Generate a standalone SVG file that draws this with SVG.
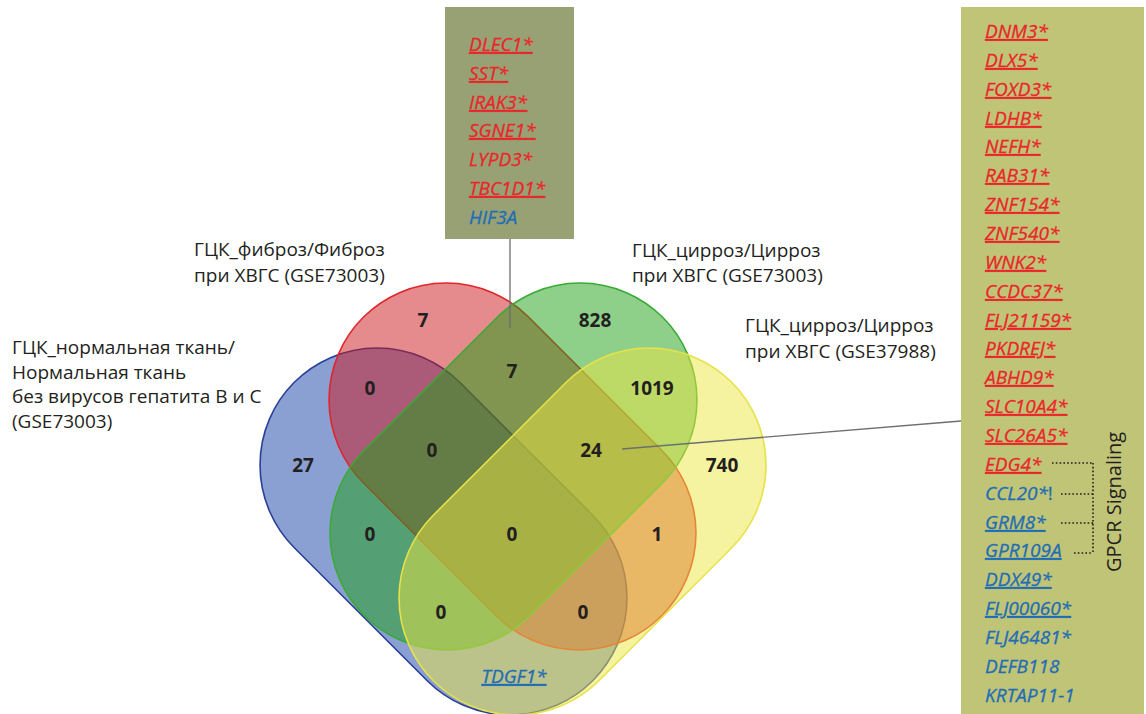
<svg xmlns="http://www.w3.org/2000/svg" width="1146" height="714" viewBox="0 0 1146 714">
<style>
.lbl{font-family:"Open Sans","Noto Sans",sans-serif;font-size:19px;fill:#231f20}
.num{font-family:"Open Sans","Noto Sans",sans-serif;font-size:19px;font-weight:bold;fill:#231f20;text-anchor:middle}
.gene{font-family:"Open Sans","Noto Sans",sans-serif;font-size:19px;font-style:italic;stroke-width:0.3}
.r{fill:#e8262b;stroke:#e8262b}
.b{fill:#1f6db5;stroke:#1f6db5}
.u{text-decoration:underline;text-underline-offset:4px;text-decoration-thickness:1.5px}
.set{stroke-width:1.6}
.conn{stroke:#6d6e71;stroke-width:1.3;fill:none}
.dot{stroke:#231f20;stroke-width:1.6;stroke-dasharray:1.6 2.2;fill:none}
</style>
<rect width="1146" height="714" fill="#ffffff"/>
<g id="set-normal">
<rect class="set" x="-211" y="-117" width="422" height="234" rx="117" ry="117" transform="translate(443.5,531.5) rotate(45)" fill="#153fa5" fill-opacity="0.5" stroke="#2a3f98"/>
<text class="lbl" x="12" y="354">ГЦК_нормальная ткань/<tspan x="12" y="379">Нормальная ткань</tspan><tspan x="12" y="403">без вирусов гепатита В и С</tspan><tspan x="12" y="428">(GSE73003)</tspan></text>
</g>
<g id="set-fibrosis">
<rect class="set" x="-211" y="-117" width="422" height="234" rx="117" ry="117" transform="translate(512.5,466.5) rotate(45)" fill="#cb171b" fill-opacity="0.5" stroke="#e0252b"/>
<text class="lbl" x="194" y="256">ГЦК_фиброз/Фиброз<tspan x="194" y="282">при ХВГС (GSE73003)</tspan></text>
</g>
<g id="set-cirrhosis-73003">
<rect class="set" x="-211" y="-117" width="422" height="234" rx="117" ry="117" transform="translate(513.5,466.5) rotate(-45)" fill="#1d9f15" fill-opacity="0.5" stroke="#3aaa35"/>
<text class="lbl" x="632" y="257">ГЦК_цирроз/Цирроз<tspan x="632" y="282">при ХВГС (GSE73003)</tspan></text>
</g>
<g id="set-cirrhosis-37988">
<rect class="set" x="-211" y="-117" width="422" height="234" rx="117" ry="117" transform="translate(582.5,531.5) rotate(-45)" fill="#ebe541" fill-opacity="0.5" stroke="#e6e24a"/>
<text class="lbl" x="745" y="332">ГЦК_цирроз/Цирроз<tspan x="745" y="358">при ХВГС (GSE37988)</tspan></text>
</g>
<g id="region-counts">
<text class="num" x="423" y="327">7</text>
<text class="num" x="595" y="327">828</text>
<text class="num" x="370" y="395">0</text>
<text class="num" x="512" y="378">7</text>
<text class="num" x="652" y="395">1019</text>
<text class="num" x="303" y="472">27</text>
<text class="num" x="432" y="457">0</text>
<text class="num" x="591" y="457">24</text>
<text class="num" x="722" y="472">740</text>
<text class="num" x="370" y="541">0</text>
<text class="num" x="512" y="541">0</text>
<text class="num" x="657" y="541">1</text>
<text class="num" x="441" y="619">0</text>
<text class="num" x="583" y="619">0</text>
<text class="gene b u" x="514" y="683" text-anchor="middle">TDGF1*</text>
</g>
<g id="panel-fibrosis-cirrhosis">
<rect x="445" y="7" width="129" height="232" fill="#98a173"/>
<text class="gene r u" x="469" y="51">DLEC1*</text>
<text class="gene r u" x="469" y="80">SST*</text>
<text class="gene r u" x="469" y="109">IRAK3*</text>
<text class="gene r u" x="469" y="137">SGNE1*</text>
<text class="gene r" x="469" y="166">LYPD3*</text>
<text class="gene r u" x="469" y="195">TBC1D1*</text>
<text class="gene b" x="469" y="224">HIF3A</text>
</g>
<g id="panel-triple">
<rect x="961" y="7" width="183" height="707" fill="#c0c476"/>
<text class="gene r u" x="985" y="38">DNM3*</text>
<text class="gene r u" x="985" y="67">DLX5*</text>
<text class="gene r u" x="985" y="96">FOXD3*</text>
<text class="gene r u" x="985" y="125">LDHB*</text>
<text class="gene r u" x="985" y="153">NEFH*</text>
<text class="gene r u" x="985" y="182">RAB31*</text>
<text class="gene r u" x="985" y="211">ZNF154*</text>
<text class="gene r u" x="985" y="240">ZNF540*</text>
<text class="gene r u" x="985" y="269">WNK2*</text>
<text class="gene r u" x="985" y="298">CCDC37*</text>
<text class="gene r u" x="985" y="327">FLJ21159*</text>
<text class="gene r u" x="985" y="355">PKDREJ*</text>
<text class="gene r u" x="985" y="384">ABHD9*</text>
<text class="gene r u" x="985" y="413">SLC10A4*</text>
<text class="gene r u" x="985" y="442">SLC26A5*</text>
<text class="gene r u" x="985" y="471">EDG4*</text>
<text class="gene b" x="985" y="500">CCL20*<tspan font-style="normal">!</tspan></text>
<text class="gene b u" x="985" y="529">GRM8*</text>
<text class="gene b u" x="985" y="557">GPR109A</text>
<text class="gene b u" x="985" y="586">DDX49*</text>
<text class="gene b u" x="985" y="615">FLJ00060*</text>
<text class="gene b" x="985" y="644">FLJ46481*</text>
<text class="gene b" x="985" y="673">DEFB118</text>
<text class="gene b" x="985" y="702">KRTAP11-1</text>
<text class="lbl" style="font-size:20px" transform="translate(1121,572) rotate(-90)">GPCR Signaling</text>
</g>
<g id="connectors">
<line class="conn" x1="510" y1="239" x2="510" y2="328"/>
<line class="conn" x1="622" y1="449" x2="961" y2="421"/>
<path class="dot" d="M1052 463H1093M1061 494H1093M1061 523H1093M1074 553H1093M1093 463V553"/>
</g>
</svg>
